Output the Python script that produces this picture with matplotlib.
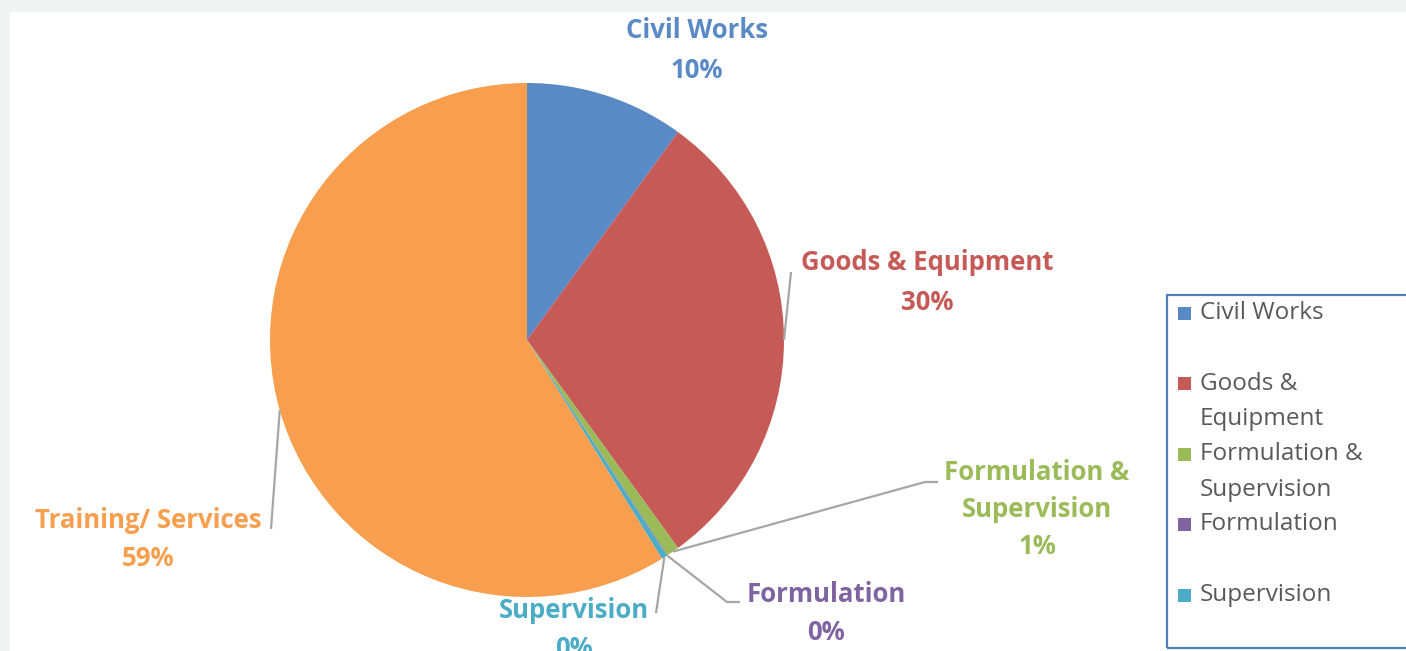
import numpy as np
import matplotlib
matplotlib.use('Agg')
import matplotlib.pyplot as plt
from matplotlib.patches import Rectangle

# slice data, clockwise from 12 o'clock
labels = ['Civil Works', 'Goods & Equipment', 'Formulation & Supervision',
          'Formulation', 'Supervision', 'Training/ Services']
values = [10.0, 30.0, 0.8, 0.05, 0.35, 58.8]
pct_labels = ['10%', '30%', '1%', '0%', '0%', '59%']
colors = ['#5a8ac6', '#c55a57', '#9bbb59', '#8064a2', '#4bacc6', '#f79f4f']

# label text lines as they wrap in the chart / legend
chart_lines = [['Civil Works'], ['Goods & Equipment'], ['Formulation &', 'Supervision'],
               ['Formulation'], ['Supervision'], ['Training/ Services']]
legend_lines = [['Civil Works'], ['Goods &', 'Equipment'], ['Formulation &', 'Supervision'],
                ['Formulation'], ['Supervision']]

W, H = 1406, 651
cx, cy, rad = 527, 340, 257


def py(y):
    # pixels measured from the top -> data y
    return H - y


fig = plt.figure(figsize=(W / 100, H / 100), dpi=100)
fig.patch.set_facecolor('#f2f3f3')
ax = fig.add_axes([0, 0, 1, 1])
ax.set_facecolor('#f2f3f3')
ax.add_patch(Rectangle((10, 0), W, H - 12, facecolor='white', edgecolor='none', zorder=0))

wedges, _ = ax.pie(values, colors=colors, startangle=90, counterclock=False,
                   center=(cx, py(cy)), radius=rad,
                   wedgeprops=dict(linewidth=0))
ax.set_xlim(0, W)
ax.set_ylim(0, H)
ax.set_aspect('equal')
ax.axis('off')

font = 'Open Sans'
# label anchor (centre x, first line y) and leader line path for each slice
label_pos = [(697, 30), (927, 263), (1037, 472), (826, 594), (574, 611), (148, 520)]
leader_path = [None, [(791, 272)], [(925, 482), (938, 482)], [(727, 602), (740, 602)],
               [(656, 613)], [(271, 529)]]
line_gap = [40, 39, 37.5, 38, 38, 38]

for i, w in enumerate(wedges):
    lx, ly = label_pos[i]
    rows = chart_lines[i] + [pct_labels[i]]
    for j, t in enumerate(rows):
        ax.text(lx, py(ly + j * line_gap[i]), t, ha='center', va='center',
                fontsize=18.5, fontweight='bold', family=font, color=colors[i])
    if leader_path[i] is not None:
        mid = np.deg2rad((w.theta1 + w.theta2) / 2)
        xs = [cx + rad * np.cos(mid)] + [p[0] for p in leader_path[i]]
        ys = [py(cy) + rad * np.sin(mid)] + [py(p[1]) for p in leader_path[i]]
        ax.plot(xs, ys, color='#a6a6a6', lw=1.6, solid_capstyle='butt', zorder=3)

# legend drawn by hand so the key sits next to the first wrapped line
ax.add_patch(Rectangle((1167, py(648)), 300, 648 - 295, facecolor='none',
                       edgecolor='#4f81bd', lw=1.6, zorder=4))
for i, rows in enumerate(legend_lines):
    y0 = 313 + 70.5 * i
    ax.add_patch(Rectangle((1178, py(y0) - 6.5), 13, 13, facecolor=colors[i],
                           edgecolor='none', zorder=5))
    for j, t in enumerate(rows):
        ax.text(1200, py(y0 + 35.5 * j), t, ha='left', va='center', fontsize=17.5,
                family=font, color='#595959')

fig.savefig('out.png', dpi=100, facecolor=fig.get_facecolor())
